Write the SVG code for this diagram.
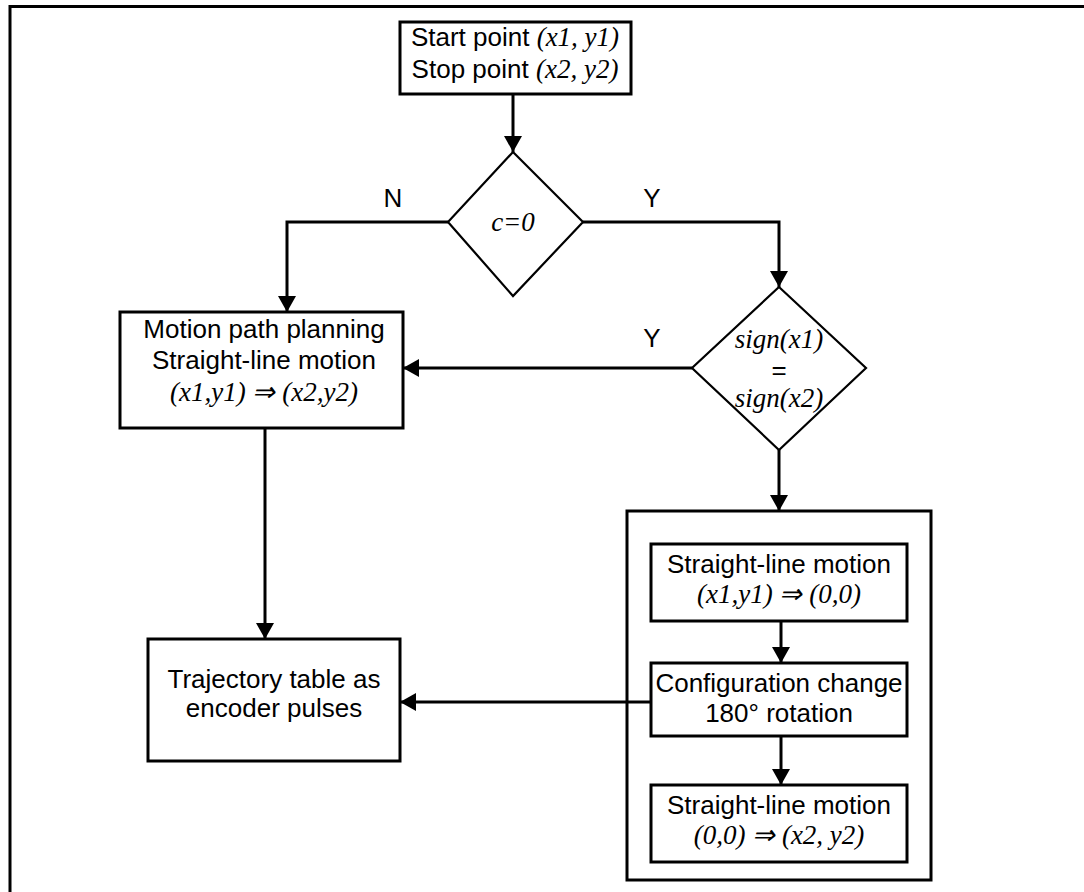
<svg xmlns="http://www.w3.org/2000/svg" width="1084" height="892" viewBox="0 0 1084 892">
  <style>
    .box { fill: #ffffff; stroke: #000000; stroke-width: 3; }
    .dia { fill: #ffffff; stroke: #000000; stroke-width: 2.2; }
    .frame { fill: none; stroke: #000000; stroke-width: 3; }
    .wire { fill: none; stroke: #000000; stroke-width: 3; }
    text { font-size: 26px; fill: #000000; text-anchor: middle; }
    .sans { font-family: "Liberation Sans", Arial, sans-serif; }
    .it { font-family: "Liberation Serif", "Times New Roman", serif; font-style: italic; font-size: 27px; }
  </style>
  <defs>
    <marker id="arrow" viewBox="0 0 16 18" refX="16" refY="9" markerWidth="16" markerHeight="18" markerUnits="userSpaceOnUse" orient="auto">
      <path d="M0,0 L16,9 L0,18 Z" fill="#000000"/>
    </marker>
  </defs>

  <rect width="1084" height="892" fill="#ffffff"/>

  <!-- outer figure frame -->
  <path class="frame" d="M10,892 V6.5 H1090"/>

  <g id="start">
    <rect class="box" x="400" y="22" width="231" height="72"/>
    <text x="515" y="46"><tspan class="sans">Start point </tspan><tspan class="it">(x1, y1)</tspan></text>
    <text x="515" y="78"><tspan class="sans">Stop point </tspan><tspan class="it">(x2, y2)</tspan></text>
  </g>

  <g id="check-c">
    <polygon class="dia" points="513,152 583,222 513,296 448,222"/>
    <text class="it" x="513" y="231">c=0</text>
  </g>

  <g id="check-sign">
    <polygon class="dia" points="779,287 866,368 779,450 692,368"/>
    <text class="it" x="779" y="348">sign(x1)</text>
    <text class="sans" x="779" y="379">=</text>
    <text class="it" x="779" y="407">sign(x2)</text>
  </g>

  <g id="motion-planning">
    <rect class="box" x="120" y="312" width="283" height="116"/>
    <text class="sans" x="264" y="338">Motion path planning</text>
    <text class="sans" x="264" y="369">Straight-line motion</text>
    <text class="it" x="264" y="401">(x1,y1) ⇒ (x2,y2)</text>
  </g>

  <g id="trajectory">
    <rect class="box" x="148" y="639" width="252" height="122"/>
    <text class="sans" x="274" y="688">Trajectory table as</text>
    <text class="sans" x="274" y="717">encoder pulses</text>
  </g>

  <g id="config-change-group">
    <rect class="box" x="627" y="511" width="304" height="369"/>
  </g>

  <g id="move-to-origin">
    <rect class="box" x="651" y="544" width="256" height="77"/>
    <text class="sans" x="779" y="573">Straight-line motion</text>
    <text class="it" x="779" y="603">(x1,y1) ⇒ (0,0)</text>
  </g>

  <g id="rotate">
    <rect class="box" x="651" y="663" width="256" height="73"/>
    <text class="sans" x="779" y="692">Configuration change</text>
    <text class="sans" x="779" y="722">180° rotation</text>
  </g>

  <g id="move-to-stop">
    <rect class="box" x="651" y="785" width="256" height="77"/>
    <text class="sans" x="779" y="814">Straight-line motion</text>
    <text class="it" x="779" y="844">(0,0) ⇒ (x2, y2)</text>
  </g>

  <!-- branch labels -->
  <g id="labels" class="sans">
    <text x="393" y="207">N</text>
    <text x="652" y="207">Y</text>
    <text x="652" y="347">Y</text>
  </g>

  <!-- connectors, drawn above the boxes -->
  <g id="connectors" class="wire">
    <path d="M513,94 V152" marker-end="url(#arrow)"/>
    <path d="M448,222 H287 V312" marker-end="url(#arrow)"/>
    <path d="M583,222 H779 V287" marker-end="url(#arrow)"/>
    <path d="M692,368 H403" marker-end="url(#arrow)"/>
    <path d="M779,450 V511" marker-end="url(#arrow)"/>
    <path d="M265,428 V639" marker-end="url(#arrow)"/>
    <path d="M651,702 H400" marker-end="url(#arrow)"/>
    <path d="M781,621 V663" marker-end="url(#arrow)"/>
    <path d="M781,736 V785" marker-end="url(#arrow)"/>
  </g>
</svg>
